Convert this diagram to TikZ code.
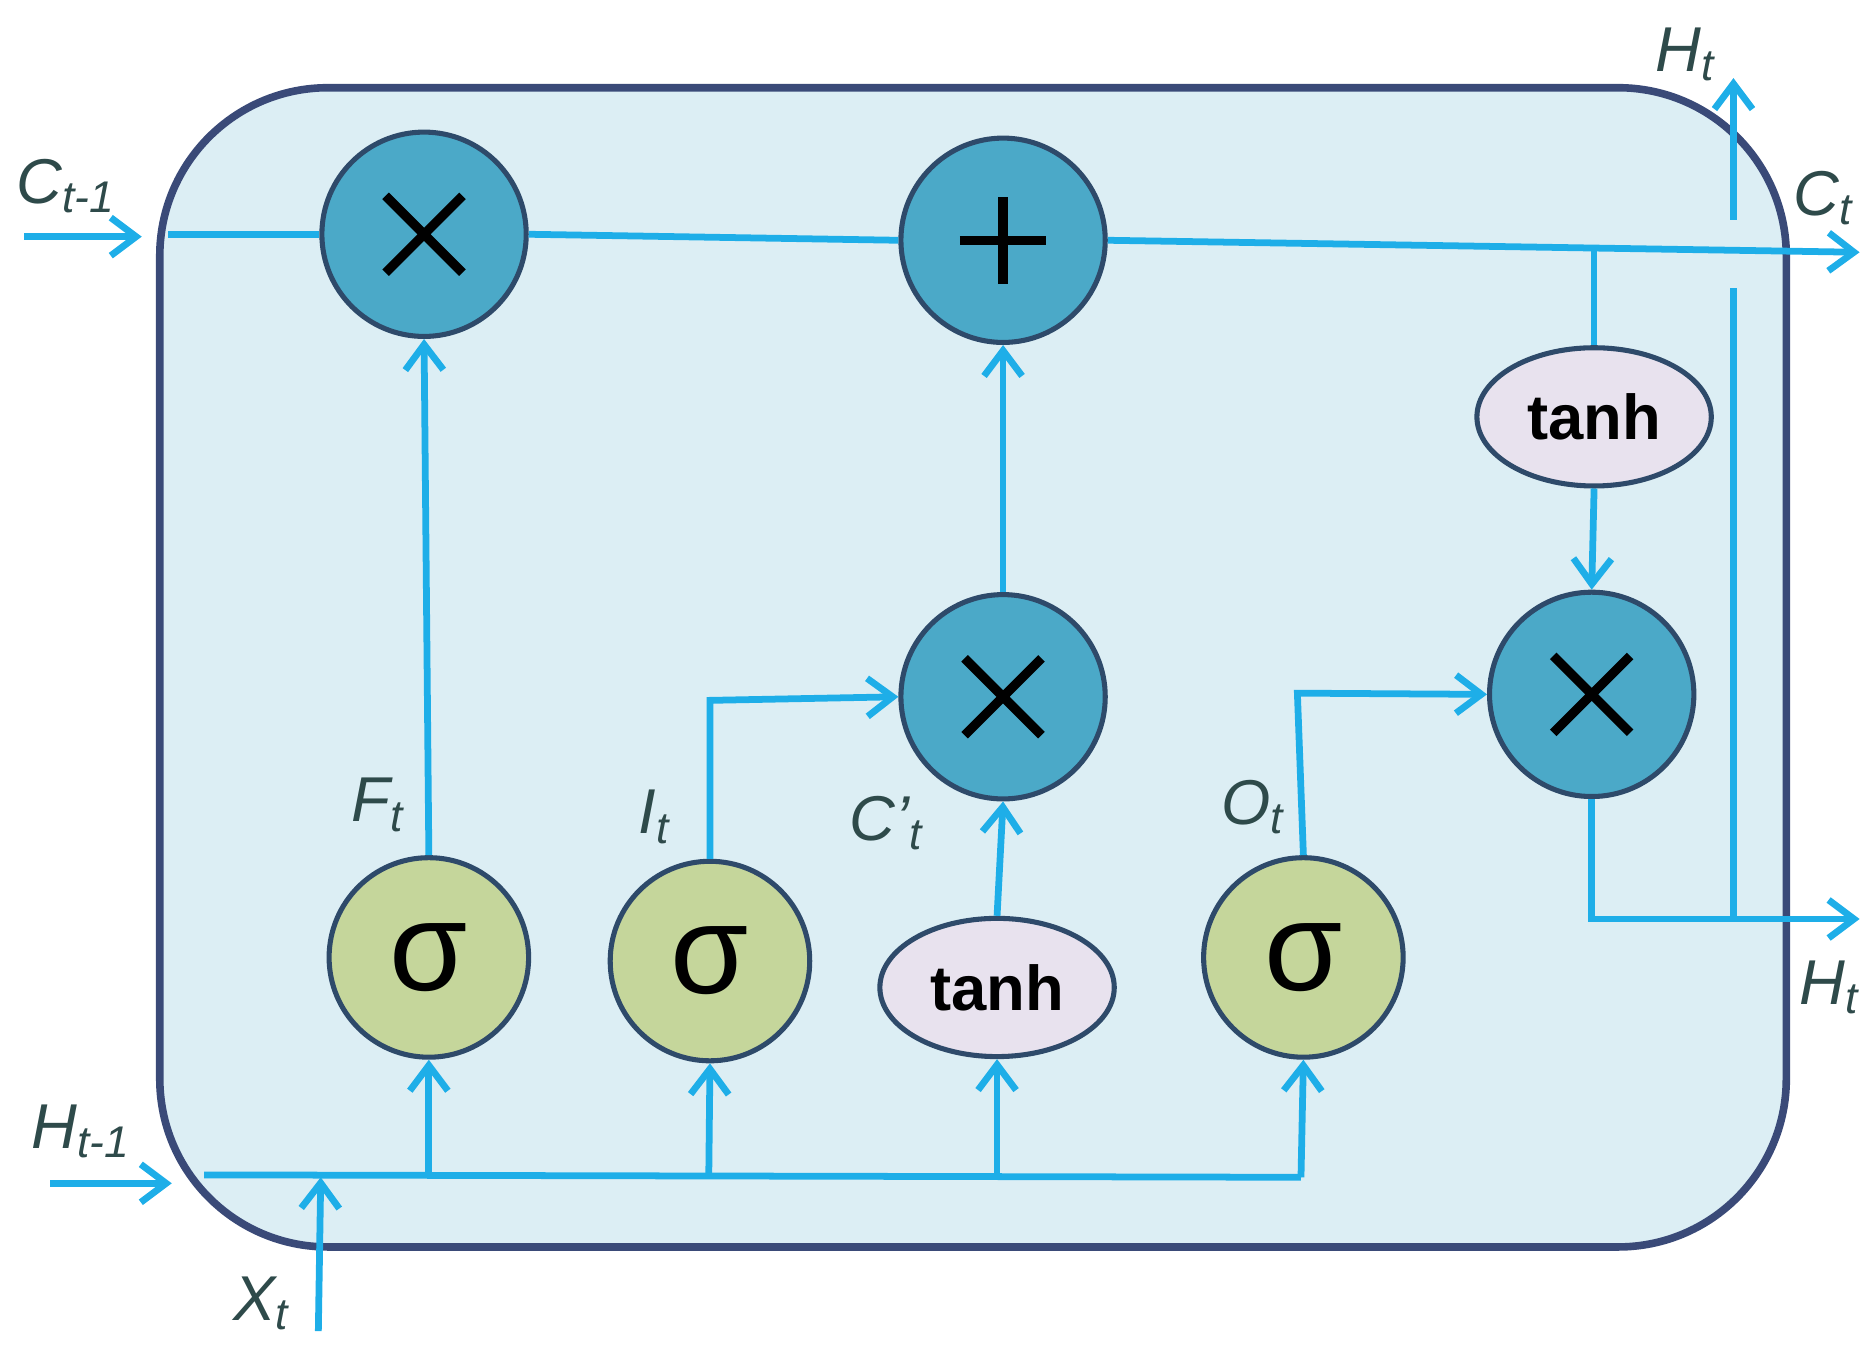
\documentclass[tikz,border=0pt]{standalone}
\usepackage{fontspec}
\setmainfont{Liberation Sans}
\usetikzlibrary{arrows.meta,shapes.geometric}
\definecolor{boxfill}{HTML}{DCEEF4}
\definecolor{boxdraw}{HTML}{3A4A78}
\definecolor{cyanl}{HTML}{1EAEE8}
\definecolor{opfill}{HTML}{4BA9C8}
\definecolor{opdraw}{HTML}{2E4A6A}
\definecolor{sigfill}{HTML}{C5D69B}
\definecolor{tanhfill}{HTML}{E8E2EE}
\definecolor{lbl}{HTML}{2E4A4A}
\begin{document}
\begin{tikzpicture}[x=0.01cm,y=-0.01cm,
  op/.style={circle,fill=opfill,draw=opdraw,line width=1.2pt,minimum size=1.7cm,inner sep=0pt},
  sig/.style={circle,fill=sigfill,draw=opdraw,line width=1.2pt,minimum size=1.66cm,inner sep=0pt,font=\fontsize{30}{30}\selectfont},
  th/.style={ellipse,fill=tanhfill,draw=opdraw,line width=1.2pt,minimum width=1.95cm,minimum height=1.15cm,inner sep=0pt,font=\bfseries\fontsize{15}{15}\selectfont},
  wire/.style={cyanl,line width=1.6pt},
  arr/.style={wire,-{Straight Barb[length=6pt,width=9pt]}},
  lab/.style={text=lbl,font=\itshape\fontsize{15}{15}\selectfont,inner sep=0pt},
  sym/.style={line width=2.2pt,black}]
\useasboundingbox (0,0) rectangle (1560,1135);
\draw[fill=boxfill,draw=boxdraw,line width=1.8pt,rounded corners=1.4cm] (133,73) rectangle (1487,1038);
% nodes
\node[op] (m1) at (353,195) {};
\node[op] (pl) at (835,200) {};
\node[op] (m2) at (835,580) {};
\node[op] (m3) at (1325,578) {};
\node[th] (t1) at (1327,347) {tanh};
\node[th] (t2) at (830,822) {tanh};
\node[sig] (s1) at (357,797) {σ};
\node[sig] (s2) at (591,800) {σ};
\node[sig] (s3) at (1085,797) {σ};
\foreach \n in {m1,m2,m3}{\draw[sym] ([shift={(-32,-32)}]\n.center) -- ([shift={(32,32)}]\n.center) ([shift={(-32,32)}]\n.center) -- ([shift={(32,-32)}]\n.center);}
\draw[sym] ([shift={(-36,0)}]pl.center) -- ([shift={(36,0)}]pl.center) ([shift={(0,-36)}]pl.center) -- ([shift={(0,36)}]pl.center);
% coordinates
\coordinate (ci0) at (20,197); \coordinate (ci1) at (118,197);
\coordinate (cin) at (140,195);
\coordinate (cout) at (1548,210);
\coordinate (br) at (1327,207);
\coordinate (hb) at (1325,765); \coordinate (hj) at (1443,765); \coordinate (hout) at (1548,765);
\coordinate (hg1) at (1443,240); \coordinate (hg2) at (1443,183); \coordinate (htop) at (1443,65);
\coordinate (hi0) at (42,985); \coordinate (hi1) at (143,985);
\coordinate (bl) at (170,978); \coordinate (brt) at (1083,980);
\coordinate (x0) at (265,1108); \coordinate (x1) at (267,980);
\coordinate (b1) at (357,979); \coordinate (b2) at (590,980); \coordinate (b3) at (830,980);
\coordinate (ik) at (591,583); \coordinate (ok) at (1080,577);
% wires
\draw[arr] (ci0) -- (ci1);
\draw[wire] (cin) -- (m1.west);
\draw[wire] (m1.east) -- (pl.west);
\draw[arr] (pl.east) -- (cout);
\draw[wire] (br) -- (t1.north);
\draw[arr] (t1.south) -- (m3.north);
\draw[wire] (m3.south) -- (hb) -- (hj);
\draw[arr] (hj) -- (hout);
\draw[wire] (hj) -- (hg1);
\draw[arr] (hg2) -- (htop);
\draw[arr] (s1.north) -- (m1.south);
\draw[arr] (s2.north) -- (ik) -- (m2.west);
\draw[arr] (t2.north) -- (m2.south);
\draw[arr] (m2.north) -- (pl.south);
\draw[arr] (s3.north) -- (ok) -- (m3.west);
\draw[arr] (hi0) -- (hi1);
\draw[wire] (bl) -- (brt);
\draw[arr] (brt) -- (s3.south);
\draw[arr] (b1) -- (s1.south);
\draw[arr] (b2) -- (s2.south);
\draw[arr] (b3) -- (t2.south);
\draw[arr] (x0) -- (x1);
% labels
\node[lab] (l1) at (55,155) {C\textsubscript{t-1}};
\node[lab] (l2) at (68,942) {H\textsubscript{t-1}};
\node[lab] (l3) at (218,1085) {X\textsubscript{t}};
\node[lab] (l4) at (315,670) {F\textsubscript{t}};
\node[lab] (l5) at (545,680) {I\textsubscript{t}};
\node[lab] (l6) at (738,685) {C’\textsubscript{t}};
\node[lab] (l7) at (1043,672) {O\textsubscript{t}};
\node[lab] (l8) at (1403,45) {H\textsubscript{t}};
\node[lab] (l9) at (1518,165) {C\textsubscript{t}};
\node[lab] (l10) at (1523,822) {H\textsubscript{t}};
\end{tikzpicture}
\end{document}
